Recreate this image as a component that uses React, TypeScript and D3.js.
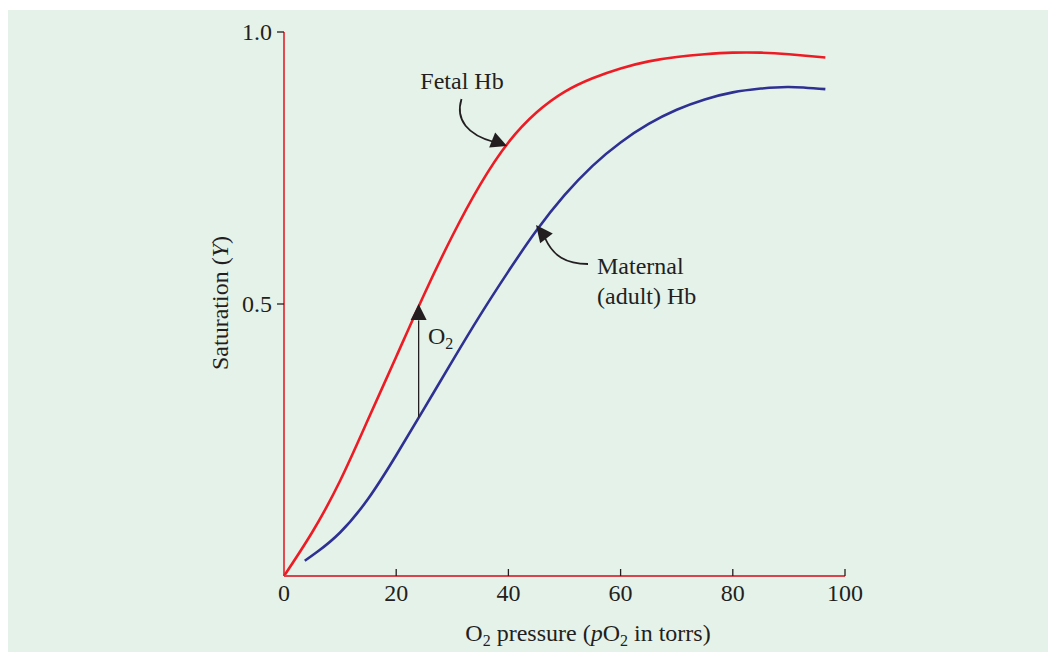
import React from "react";
import * as d3 from "d3";

const xTicks = [0, 20, 40, 60, 80, 100];
const yTicks = [0.5, 1.0];
const yTickLabels = ["0.5", "1.0"];

const fetalP = [0, 5, 10, 15, 20, 25, 30, 35, 40, 45, 50, 55, 60, 65, 70, 75, 80, 85, 90, 96.5];
const fetalY = [0, 0.08, 0.175, 0.288, 0.403, 0.518, 0.625, 0.72, 0.797, 0.852, 0.89, 0.915, 0.933, 0.946, 0.954, 0.959, 0.962, 0.962, 0.959, 0.953];

const maternalP = [3.7, 6, 10, 15, 20, 25, 30, 35, 40, 45, 50, 55, 60, 65, 70, 75, 80, 85, 90, 96.5];
const maternalY = [0.028, 0.045, 0.08, 0.142, 0.222, 0.308, 0.395, 0.48, 0.56, 0.635, 0.7, 0.754, 0.797, 0.831, 0.857, 0.876, 0.889, 0.896, 0.899, 0.895];

const W = 1048, H = 652;
const FONT = "'Liberation Serif', 'Times New Roman', serif";
const FS = 24;
const SUB = 16;

function arrowHead(tx: number, ty: number, angleDeg: number, len = 16, half = 8) {
  const a = (angleDeg * Math.PI) / 180;
  const bx = tx - len * Math.cos(a), by = ty - len * Math.sin(a);
  const px = -Math.sin(a) * half, py = Math.cos(a) * half;
  return `M${tx},${ty}L${bx + px},${by + py}L${bx - px},${by - py}Z`;
}

export default function App() {
  const x = d3.scaleLinear().domain([0, 100]).range([284, 845]);
  const y = d3.scaleLinear().domain([0, 1]).range([576, 32]);

  const line = d3
    .line<[number, number]>()
    .x((d) => x(d[0]))
    .y((d) => y(d[1]))
    .curve(d3.curveNatural);

  const fetal = fetalP.map((p, i) => [p, fetalY[i]] as [number, number]);
  const maternal = maternalP.map((p, i) => [p, maternalY[i]] as [number, number]);

  const o2x = x(24);

  return (
    <svg width={W} height={H} style={{ position: "absolute", left: 0, top: 0, display: "block" }} fontFamily={FONT}>
      <rect x={8} y={10} width={W - 8} height={H - 10} fill="#e5f2ea" />

      {/* curves */}
      <path d={line(fetal) || ""} fill="none" stroke="#ed1c24" strokeWidth={2.6} />
      <path d={line(maternal) || ""} fill="none" stroke="#2e3192" strokeWidth={2.6} />

      {/* axes */}
      <line x1={x(0)} x2={x(100)} y1={y(0)} y2={y(0)} stroke="#d9444c" strokeWidth={2} />
      <line x1={x(0)} x2={x(0)} y1={y(0)} y2={y(1)} stroke="#e3202a" strokeWidth={1.6} />
      {xTicks.slice(1).map((t) => (
        <line key={"xt" + t} x1={x(t)} x2={x(t)} y1={y(0)} y2={y(0) - 7} stroke="#231f20" strokeWidth={1.3} />
      ))}
      {yTicks.map((t) => (
        <line key={"yt" + t} x1={x(0) - 7} x2={x(0)} y1={y(t)} y2={y(t)} stroke="#231f20" strokeWidth={1.3} />
      ))}
      {xTicks.map((t) => (
        <text key={"xl" + t} x={x(t)} y={y(0) + 25} textAnchor="middle" fontSize={FS} fill="#231f20">
          {t}
        </text>
      ))}
      {yTicks.map((t, i) => (
        <text key={"yl" + t} x={x(0) - 12} y={y(t) + 8} textAnchor="end" fontSize={FS} fill="#231f20">
          {yTickLabels[i]}
        </text>
      ))}

      {/* axis titles */}
      <text x={588} y={641} textAnchor="middle" fontSize={FS} fill="#231f20">
        O<tspan fontSize={SUB} dy={5}>2</tspan>
        <tspan dy={-5}> pressure (</tspan>
        <tspan fontStyle="italic">p</tspan>
        <tspan>O</tspan>
        <tspan fontSize={SUB} dy={5}>2</tspan>
        <tspan dy={-5}> in torrs)</tspan>
      </text>
      <text transform={`translate(228,303) rotate(-90)`} textAnchor="middle" fontSize={FS} fill="#231f20">
        Saturation (<tspan fontStyle="italic">Y</tspan>)
      </text>

      {/* annotations */}
      <text x={462} y={89} textAnchor="middle" fontSize={FS} fill="#231f20">Fetal Hb</text>
      <path d="M461.5,99 C455,120 468,135 494,142" fill="none" stroke="#231f20" strokeWidth={1.8} />
      <path d={arrowHead(507, 146, 22, 16, 8)} fill="#231f20" />

      <text x={597} y={274} fontSize={FS} fill="#231f20">Maternal</text>
      <text x={597} y={304} fontSize={FS} fill="#231f20">(adult) Hb</text>
      <path d="M588,264 C566,264 553,256 545,238" fill="none" stroke="#231f20" strokeWidth={1.8} />
      <path d={arrowHead(536, 225, -128, 17, 8)} fill="#231f20" />

      <line x1={o2x} x2={o2x} y1={y(0.292)} y2={y(0.47)} stroke="#231f20" strokeWidth={1.3} />
      <path d={arrowHead(o2x, y(0.5), -90, 16, 8)} fill="#231f20" />
      <text x={428} y={344} fontSize={FS} fill="#231f20">
        O<tspan fontSize={SUB} dy={5}>2</tspan>
      </text>
    </svg>
  );
}
